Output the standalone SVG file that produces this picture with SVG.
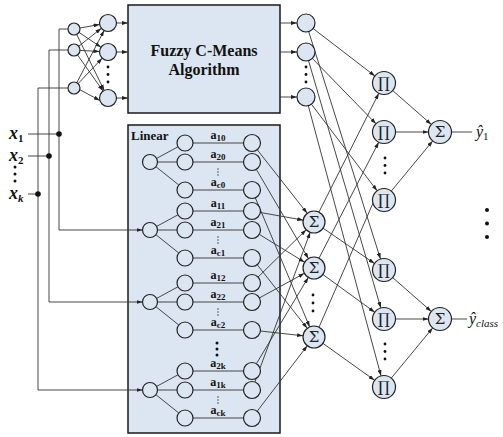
<svg xmlns="http://www.w3.org/2000/svg" width="503" height="437" viewBox="0 0 503 437">
<defs>
<marker id="ah" viewBox="0 0 6 4" refX="6" refY="2" markerWidth="6" markerHeight="4" orient="auto" markerUnits="userSpaceOnUse"><path d="M0,0 L6,2 L0,4 z" fill="#222"/></marker>
</defs>
<style>
.box{fill:#dce6f2;stroke:#1a1a1a;stroke-width:1.5}
.n{fill:#dce6f2;stroke:#222;stroke-width:1.2}
.c{fill:none;stroke:#333;stroke-width:0.9}
.a{marker-end:url(#ah)}
.lbl{font-family:"Liberation Serif",serif;font-weight:bold;fill:#111}
.al{font-family:"Liberation Serif",serif;font-weight:bold;font-size:12px;text-anchor:middle;fill:#111}
.sym{font-family:"DejaVu Serif","Liberation Serif",serif;font-size:15px;text-anchor:middle;fill:#222}
.out{font-family:"Liberation Serif",serif;font-style:italic;fill:#111}
.dot{fill:#111}
.sd{fill:#333}
</style>
<rect width="503" height="437" fill="#fff"/>

<g id="fcm-box">
<rect class="box" x="128" y="5" width="152" height="108"/>
<text class="lbl" x="204" y="56" font-size="16" text-anchor="middle">Fuzzy C-Means</text>
<text class="lbl" x="204" y="75" font-size="16" text-anchor="middle">Algorithm</text>
</g>
<g id="linear-box">
<rect class="box" x="128" y="125" width="152" height="308"/>
<text class="lbl" x="131" y="140" font-size="13">Linear</text>
</g>

<g id="connectors">
<path class="c" d="M28,134 H59"/>
<path class="c" d="M28,156 H49"/>
<path class="c" d="M28,194 H38"/>
<path class="c a" d="M68,29 H59 V230 H142.5"/>
<path class="c a" d="M68,50 H49 V302 H142.5"/>
<path class="c a" d="M68,88 H38 V390 H142.5"/>
<path class="c a" d="M79.9,28 L99.6,24.5"/>
<path class="c a" d="M79,32.4 L101,47.2"/>
<path class="c a" d="M76.7,34.4 L104.2,90.4"/>
<path class="c a" d="M78.7,46.3 L101.3,28.3"/>
<path class="c a" d="M80,50.4 L99.5,51.5"/>
<path class="c a" d="M77.5,54.9 L103.1,91.1"/>
<path class="c a" d="M76.8,82.7 L104.1,30.5"/>
<path class="c a" d="M78.1,83.6 L102.2,58.2"/>
<path class="c a" d="M79.8,89.7 L99.8,100.4"/>
<path class="c a" d="M116.5,23 H128"/>
<path class="c a" d="M116.5,52 H128"/>
<path class="c a" d="M116.5,98 H128"/>
<path class="c a" d="M280,23 H297"/>
<path class="c a" d="M280,52 H297"/>
<path class="c a" d="M280,97 H297"/>
<path class="c" d="M156.6,158.4 L178,146.8 M157.5,162 H177 M155.9,166.7 L178.8,185 M193,143 H243.5 M193,162 H243.5 M193,190 H243.5"/>
<path class="c" d="M156.6,226.4 L178,214.8 M157.5,230 H177 M155.9,234.7 L178.8,253 M193,211 H243.5 M193,230 H243.5 M193,258 H243.5"/>
<path class="c" d="M156.6,298.4 L178,286.8 M157.5,302 H177 M155.9,306.7 L178.8,325 M193,283 H243.5 M193,302 H243.5 M193,330 H243.5"/>
<path class="c" d="M156.6,386.4 L178,374.8 M157.5,390 H177 M155.9,394.7 L178.8,413 M193,371 H243.5 M193,390 H243.5 M193,418 H243.5"/>
<path class="c a" d="M257.2,149.7 L307.2,213.3"/>
<path class="c a" d="M260.4,212.5 L303.2,220.1"/>
<path class="c a" d="M258.1,277 L306.2,229.7"/>
<path class="c a" d="M254.9,382 L310.2,232.3"/>
<path class="c a" d="M256.3,169.3 L308.4,258.5"/>
<path class="c a" d="M259.3,234.4 L304.6,262.2"/>
<path class="c a" d="M259.5,297.9 L304.4,273.3"/>
<path class="c a" d="M256.4,363.7 L308.3,277.4"/>
<path class="c a" d="M255.3,197.8 L309.7,326.9"/>
<path class="c a" d="M257.2,264.7 L307.2,328.3"/>
<path class="c a" d="M260.4,331 L303.1,335.8"/>
<path class="c a" d="M257.2,411.2 L307.3,345.7"/>
<path class="c a" d="M313.1,28.5 L374.9,76"/>
<path class="c a" d="M308.7,31.6 L380.5,259"/>
<path class="c a" d="M312.3,58.4 L376,123.8"/>
<path class="c a" d="M308.5,60.6 L380.8,308"/>
<path class="c a" d="M311.4,104.2 L377.1,190.8"/>
<path class="c a" d="M308.3,105.7 L381,375.9"/>
<path class="c a" d="M318.9,212.2 L378.8,93.3"/>
<path class="c a" d="M323.1,228.2 L374.5,263.5"/>
<path class="c a" d="M319,258.2 L378.7,142.2"/>
<path class="c a" d="M322.9,274.5 L374.7,312.2"/>
<path class="c a" d="M319,327.2 L378.8,189.8"/>
<path class="c a" d="M323,343.4 L374.6,380.3"/>
<path class="c a" d="M392.7,90.6 L431.3,124.4"/>
<path class="c a" d="M395.5,132 H428.5"/>
<path class="c a" d="M391.3,191.1 L432.7,140.9"/>
<path class="c a" d="M392.7,277.6 L431.3,311.4"/>
<path class="c a" d="M395.5,319 H428.5"/>
<path class="c a" d="M391.3,378.1 L432.7,327.9"/>
<path class="c" d="M451.5,132 H472"/>
<path class="c" d="M451.5,319 H467"/>
</g>

<g id="inputs">
<text class="lbl" x="9" y="139" font-size="18" font-style="italic">x<tspan font-size="11" dy="3" font-style="normal">1</tspan></text>
<text class="lbl" x="9" y="161" font-size="18" font-style="italic">x<tspan font-size="11" dy="3" font-style="normal">2</tspan></text>
<circle class="dot" cx="15" cy="167" r="1.5"/><circle class="dot" cx="15" cy="174" r="1.5"/><circle class="dot" cx="15" cy="181" r="1.5"/>
<text class="lbl" x="9" y="199" font-size="18" font-style="italic">x<tspan font-size="11" dy="3">k</tspan></text>
<circle class="dot" cx="59" cy="134" r="2.8"/>
<circle class="dot" cx="49" cy="156" r="2.8"/>
<circle class="dot" cx="38" cy="194" r="2.8"/>
</g>

<g id="layer1">
<circle class="n" cx="74" cy="29" r="6"/>
<circle class="n" cx="74" cy="50" r="6"/>
<circle class="n" cx="74" cy="88" r="6"/>
</g>
<g id="layer2">
<circle class="n" cx="108" cy="23" r="8.5"/>
<circle class="n" cx="108" cy="52" r="8.5"/>
<circle class="n" cx="108" cy="98" r="8.5"/>
<circle class="dot" cx="108" cy="67" r="1.4"/><circle class="dot" cx="108" cy="74.5" r="1.4"/><circle class="dot" cx="108" cy="82" r="1.4"/>
</g>
<g id="memberships">
<circle class="n" cx="306" cy="23" r="9"/>
<circle class="n" cx="306" cy="52" r="9"/>
<circle class="n" cx="306" cy="97" r="9"/>
<circle class="dot" cx="306" cy="67" r="1.4"/><circle class="dot" cx="306" cy="74.5" r="1.4"/><circle class="dot" cx="306" cy="82" r="1.4"/>
</g>

<g id="linear-group-0">
<circle class="n" cx="150" cy="162" r="7.5"/>
<circle class="n" cx="185" cy="143" r="8"/><circle class="n" cx="185" cy="162" r="8"/><circle class="n" cx="185" cy="190" r="8"/>
<circle class="n" cx="252" cy="143" r="8.5"/><circle class="n" cx="252" cy="162" r="8.5"/><circle class="n" cx="252" cy="190" r="8.5"/>
<text class="al" x="218" y="139">a<tspan font-size="9" dy="2">10</tspan></text>
<text class="al" x="218" y="158">a<tspan font-size="9" dy="2">20</tspan></text>
<circle class="sd" cx="218" cy="169" r="0.7"/><circle class="sd" cx="218" cy="172" r="0.7"/><circle class="sd" cx="218" cy="175" r="0.7"/>
<text class="al" x="218" y="186">a<tspan font-size="9" dy="2">c0</tspan></text>
</g>
<g id="linear-group-1">
<circle class="n" cx="150" cy="230" r="7.5"/>
<circle class="n" cx="185" cy="211" r="8"/><circle class="n" cx="185" cy="230" r="8"/><circle class="n" cx="185" cy="258" r="8"/>
<circle class="n" cx="252" cy="211" r="8.5"/><circle class="n" cx="252" cy="230" r="8.5"/><circle class="n" cx="252" cy="258" r="8.5"/>
<text class="al" x="218" y="207">a<tspan font-size="9" dy="2">11</tspan></text>
<text class="al" x="218" y="226">a<tspan font-size="9" dy="2">21</tspan></text>
<circle class="sd" cx="218" cy="237" r="0.7"/><circle class="sd" cx="218" cy="240" r="0.7"/><circle class="sd" cx="218" cy="243" r="0.7"/>
<text class="al" x="218" y="254">a<tspan font-size="9" dy="2">c1</tspan></text>
</g>
<g id="linear-group-2">
<circle class="n" cx="150" cy="302" r="7.5"/>
<circle class="n" cx="185" cy="283" r="8"/><circle class="n" cx="185" cy="302" r="8"/><circle class="n" cx="185" cy="330" r="8"/>
<circle class="n" cx="252" cy="283" r="8.5"/><circle class="n" cx="252" cy="302" r="8.5"/><circle class="n" cx="252" cy="330" r="8.5"/>
<text class="al" x="218" y="279">a<tspan font-size="9" dy="2">12</tspan></text>
<text class="al" x="218" y="298">a<tspan font-size="9" dy="2">22</tspan></text>
<circle class="sd" cx="218" cy="309" r="0.7"/><circle class="sd" cx="218" cy="312" r="0.7"/><circle class="sd" cx="218" cy="315" r="0.7"/>
<text class="al" x="218" y="326">a<tspan font-size="9" dy="2">c2</tspan></text>
</g>
<g id="linear-dots">
<circle class="dot" cx="217" cy="343" r="1.5"/><circle class="dot" cx="217" cy="349" r="1.5"/><circle class="dot" cx="217" cy="355" r="1.5"/>
</g>
<g id="linear-group-k">
<circle class="n" cx="150" cy="390" r="7.5"/>
<circle class="n" cx="185" cy="371" r="8"/><circle class="n" cx="185" cy="390" r="8"/><circle class="n" cx="185" cy="418" r="8"/>
<circle class="n" cx="252" cy="371" r="8.5"/><circle class="n" cx="252" cy="390" r="8.5"/><circle class="n" cx="252" cy="418" r="8.5"/>
<text class="al" x="218" y="367">a<tspan font-size="9" dy="2">2k</tspan></text>
<text class="al" x="218" y="386">a<tspan font-size="9" dy="2">1k</tspan></text>
<circle class="sd" cx="218" cy="397" r="0.7"/><circle class="sd" cx="218" cy="400" r="0.7"/><circle class="sd" cx="218" cy="403" r="0.7"/>
<text class="al" x="218" y="414">a<tspan font-size="9" dy="2">ck</tspan></text>
</g>

<g id="sum-1"><circle class="n" cx="314" cy="222" r="11"/><text class="sym" x="314" y="227">Σ</text></g>
<g id="sum-2"><circle class="n" cx="314" cy="268" r="11"/><text class="sym" x="314" y="273">Σ</text></g>
<g id="sum-dots"><circle class="dot" cx="313" cy="295" r="1.4"/><circle class="dot" cx="313" cy="303" r="1.4"/><circle class="dot" cx="313" cy="311" r="1.4"/></g>
<g id="sum-c"><circle class="n" cx="314" cy="337" r="11"/><text class="sym" x="314" y="342">Σ</text></g>

<g id="prod-1"><circle class="n" cx="384" cy="83" r="11.5"/><text class="sym" x="384" y="88">∏</text></g>
<g id="prod-2"><circle class="n" cx="384" cy="132" r="11.5"/><text class="sym" x="384" y="137">∏</text></g>
<g id="prod-dots-1"><circle class="dot" cx="385" cy="158" r="1.4"/><circle class="dot" cx="385" cy="165.5" r="1.4"/><circle class="dot" cx="385" cy="173" r="1.4"/></g>
<g id="prod-3"><circle class="n" cx="384" cy="200" r="11.5"/><text class="sym" x="384" y="205">∏</text></g>
<g id="prod-4"><circle class="n" cx="384" cy="270" r="11.5"/><text class="sym" x="384" y="275">∏</text></g>
<g id="prod-5"><circle class="n" cx="384" cy="319" r="11.5"/><text class="sym" x="384" y="324">∏</text></g>
<g id="prod-dots-2"><circle class="dot" cx="385" cy="344" r="1.4"/><circle class="dot" cx="385" cy="351.5" r="1.4"/><circle class="dot" cx="385" cy="359" r="1.4"/></g>
<g id="prod-6"><circle class="n" cx="384" cy="387" r="11.5"/><text class="sym" x="384" y="392">∏</text></g>

<g id="out-sum-1"><circle class="n" cx="440" cy="132" r="11.5"/><text class="sym" x="440" y="137">Σ</text></g>
<g id="out-sum-class"><circle class="n" cx="440" cy="319" r="11.5"/><text class="sym" x="440" y="324">Σ</text></g>
<g id="out-dots"><circle class="dot" cx="487" cy="210" r="2"/><circle class="dot" cx="487" cy="223.5" r="2"/><circle class="dot" cx="487" cy="237" r="2"/></g>
<g id="output-labels">
<text class="out" x="476" y="137" font-size="16">ŷ<tspan font-size="11" dy="3" font-style="normal">1</tspan></text>
<text class="out" x="469" y="324" font-size="16">ŷ<tspan font-size="11" dy="3">class</tspan></text>
</g>
</svg>
